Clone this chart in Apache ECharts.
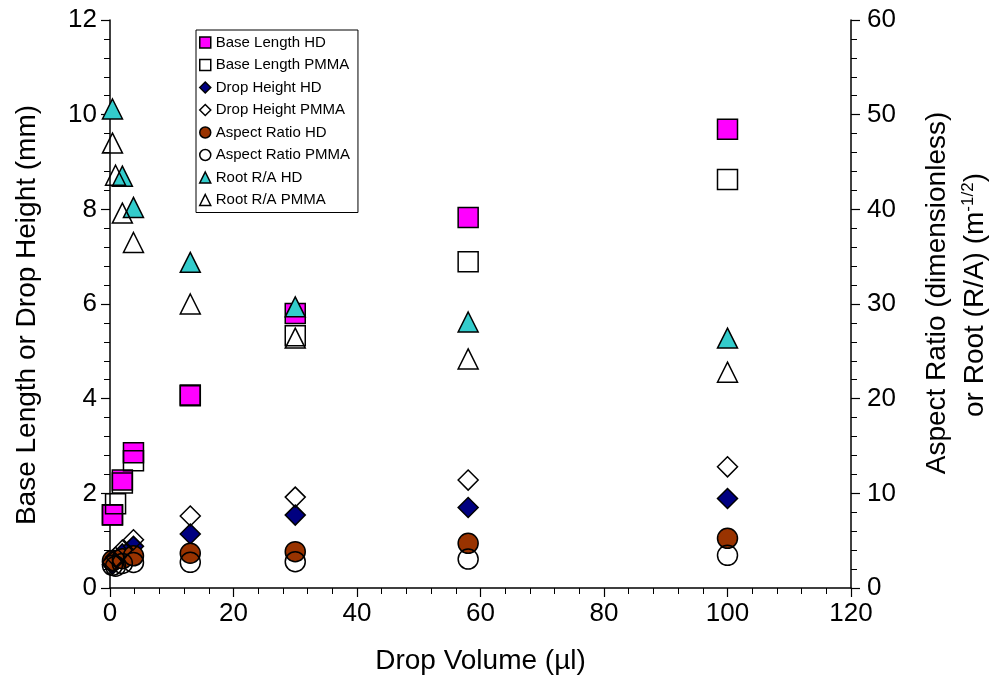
<!DOCTYPE html>
<html>
<head>
<meta charset="utf-8">
<script src="https://cdn.jsdelivr.net/npm/echarts@6/dist/echarts.min.js"></script>
<style>html,body{margin:0;padding:0;background:#fff}#c{width:995px;height:683px}</style>
</head>
<body>
<div id="c"></div>
<script>
// Drop volumes (µl)
var volHD   = [0.4, 2, 3.8, 13, 30, 58, 100];
var volPMMA = [0.4, 0.9, 2, 3.8, 13, 30, 58, 100];
// Left axis (mm)
var baseHD     = [1.54, 2.28, 2.86, 4.06, 5.80, 7.83, 9.69];
var basePMMA   = [1.55, 1.78, 2.22, 2.69, 4.08, 5.33, 6.89, 8.63];
var heightHD   = [0.50, 0.72, 0.88, 1.14, 1.54, 1.70, 1.89];
var heightPMMA = [0.55, 0.65, 0.80, 1.02, 1.52, 1.92, 2.28, 2.56];
// Right axis
var aspectHD   = [2.9, 3.1, 3.4, 3.67, 3.84, 4.72, 5.25];
var aspectPMMA = [2.4, 2.3, 2.6, 2.7, 2.71, 2.78, 3.06, 3.45];
var rootHD     = [50.6, 43.5, 40.2, 34.4, 29.7, 28.1, 26.4];
var rootPMMA   = [47.0, 43.6, 39.6, 36.5, 30.0, 26.4, 24.2, 22.8];

var names = ['Base Length HD','Base Length PMMA','Drop Height HD','Drop Height PMMA',
             'Aspect Ratio HD','Aspect Ratio PMMA','Root R/A HD','Root R/A PMMA'];
var xTicks = [0, 20, 40, 60, 80, 100, 120];

function pairs(xs, ys){ return xs.map(function(x,i){ return [x, ys[i]]; }); }

var FONT = 'Arial, "Liberation Sans", sans-serif';
var chart = echarts.init(document.getElementById('c'), null, {renderer:'canvas'});

function mk(name, xs, ys, axis, symbol, color, z){
  return {
    name: name, type: 'scatter', yAxisIndex: axis, symbol: symbol, symbolSize: 20, z: z,
    data: pairs(xs, ys),
    itemStyle: { color: color, borderColor: '#000', borderWidth: 1.5, opacity: 1 },
    emphasis: { disabled: true }
  };
}

var axisCommon = {
  axisLine: { show: true, lineStyle: { color: '#000', width: 1.5 } },
  axisTick: { show: true, inside: false, length: 9, lineStyle: { color: '#000', width: 1.2 } },
  minorTick: { show: true, splitNumber: 5, length: 6, lineStyle: { color: '#000', width: 1 } },
  splitLine: { show: false },
  axisLabel: { color: '#000', fontSize: 26, fontFamily: FONT }
};

chart.setOption({
  animation: false,
  backgroundColor: '#fff',
  grid: { left: 110, right: 144, top: 20, bottom: 95, containLabel: false },
  legend: {
    data: names, orient: 'vertical', left: 196, top: 30,
    itemWidth: 11, itemHeight: 11, itemGap: 5.5, itemTextGap: 4,
    padding: [4, 8, 4, 3], borderColor: '#000', borderWidth: 1, backgroundColor: '#fff',
    textStyle: { color: '#000', fontSize: 15, fontFamily: FONT, lineHeight: 17 }, selectedMode: false,
    itemStyle: { borderWidth: 1.5 }
  },
  xAxis: Object.assign({}, axisCommon, {
    type: 'value', min: 0, max: 120, interval: 20,
    axisLabel: { color: '#000', fontSize: 26, fontFamily: FONT, margin: 13,
      formatter: function(v){ return xTicks.indexOf(v) >= 0 ? String(v) : ''; } },
    name: 'Drop Volume (µl)', nameLocation: 'middle', nameGap: 59,
    nameTextStyle: { color: '#000', fontSize: 28, fontFamily: FONT }
  }),
  yAxis: [
    Object.assign({}, axisCommon, {
      type: 'value', min: 0, max: 12, interval: 2, position: 'left',
      axisLabel: { color: '#000', fontSize: 26, fontFamily: FONT, margin: 13 }
    }),
    Object.assign({}, axisCommon, {
      type: 'value', min: 0, max: 60, interval: 10, position: 'right',
      axisLabel: { color: '#000', fontSize: 26, fontFamily: FONT, margin: 16 }
    })
  ],
  graphic: [
    { type: 'text', x: 27, y: 315, rotation: Math.PI/2, silent: true,
      style: { text: 'Base Length or Drop Height (mm)', fill: '#000', font: '28px ' + FONT,
               textAlign: 'center', textVerticalAlign: 'middle' } },
    { type: 'text', x: 937, y: 293, rotation: Math.PI/2, silent: true,
      style: { text: 'Aspect Ratio (dimensionless)', fill: '#000', font: '28px ' + FONT,
               textAlign: 'center', textVerticalAlign: 'middle' } },
    { type: 'text', x: 975, y: 295, rotation: Math.PI/2, silent: true,
      style: { text: '{a|or Root (R/A) (m}{b|-1/2}{a|)}', fill: '#000',
               textAlign: 'center', textVerticalAlign: 'middle',
               rich: { a: { fontSize: 28, fontFamily: FONT, color: '#000', lineHeight: 32 },
                       b: { fontSize: 17, fontFamily: FONT, color: '#000', padding: [0,0,14,0], lineHeight: 32 } } } }
  ],
  series: [
    mk(names[0], volHD,   baseHD,     0, 'rect',     '#FF00FF', 3),
    mk(names[1], volPMMA, basePMMA,   0, 'rect',     'rgba(255,255,255,0)', 4),
    mk(names[2], volHD,   heightHD,   0, 'diamond',  '#000080', 3),
    mk(names[3], volPMMA, heightPMMA, 0, 'diamond',  'rgba(255,255,255,0)', 4),
    mk(names[4], volHD,   aspectHD,   1, 'circle',   '#993300', 3),
    mk(names[5], volPMMA, aspectPMMA, 1, 'circle',   'rgba(255,255,255,0)', 4),
    mk(names[6], volHD,   rootHD,     1, 'triangle', '#33CCCC', 3),
    mk(names[7], volPMMA, rootPMMA,   1, 'triangle', 'rgba(255,255,255,0)', 4)
  ]
});
</script>
</body>
</html>
